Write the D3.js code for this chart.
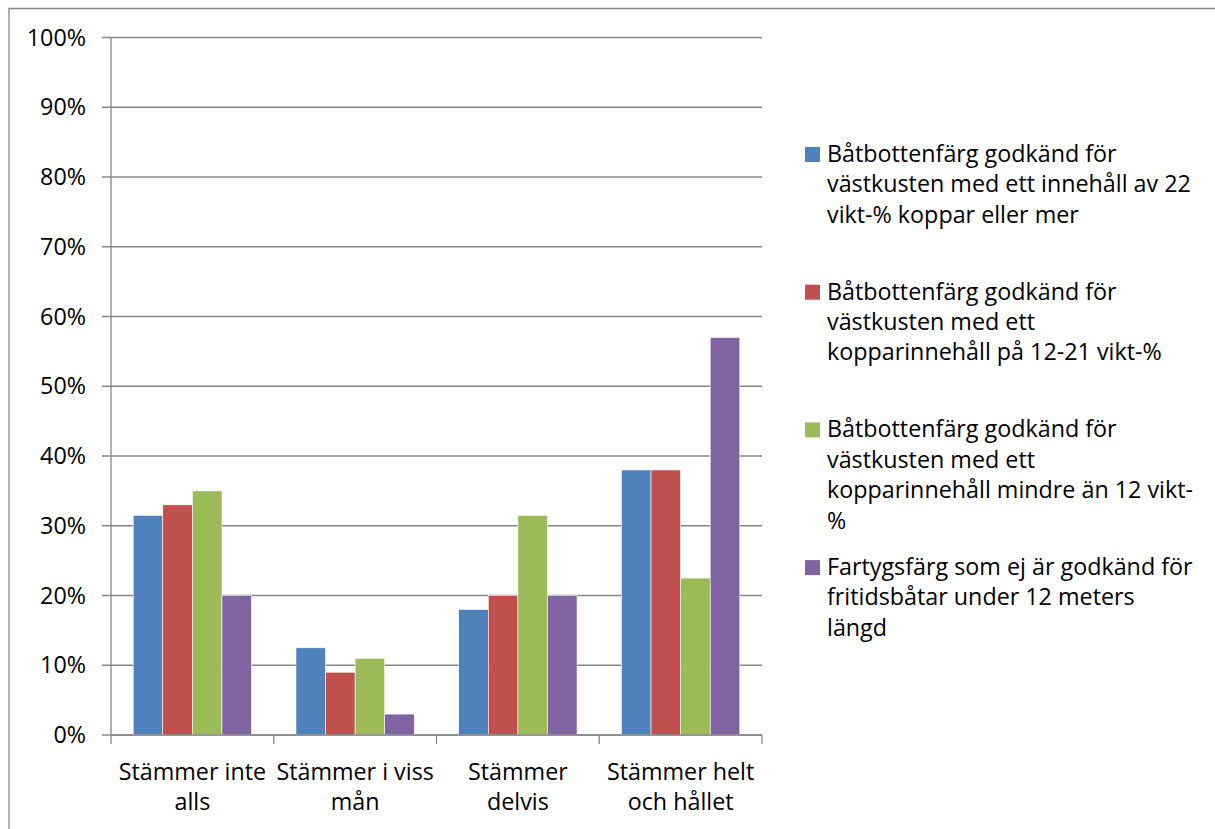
<!DOCTYPE html>
<html>
<head>
<meta charset="utf-8">
<script src="https://cdn.jsdelivr.net/npm/d3@7"></script>
<style>
  body { margin: 0; background: #fff; }
  text { font-family: "Open Sans", "DejaVu Sans", sans-serif; fill: #000; }
</style>
</head>
<body>
<svg width="1215" height="829"></svg>
<script>
var categories = [["Stämmer inte", "alls"], ["Stämmer i viss", "mån"], ["Stämmer", "delvis"], ["Stämmer helt", "och hållet"]];
var seriesNames = [
  ["Båtbottenfärg godkänd för", "västkusten med ett innehåll av 22", "vikt-% koppar eller mer"],
  ["Båtbottenfärg godkänd för", "västkusten med ett", "kopparinnehåll på 12-21 vikt-%"],
  ["Båtbottenfärg godkänd för", "västkusten med ett", "kopparinnehåll mindre än 12 vikt-", "%"],
  ["Fartygsfärg som ej är godkänd för", "fritidsbåtar under 12 meters", "längd"]
];
var s1 = [31.5, 12.5, 18, 38];
var s2 = [33, 9, 20, 38];
var s3 = [35, 11, 31.5, 22.5];
var s4 = [20, 3, 20, 57];
var yTicks = [0, 10, 20, 30, 40, 50, 60, 70, 80, 90, 100];
var colors = ["#4f81bd", "#c0504d", "#9bbb59", "#8064a2"];

var series = [s1, s2, s3, s4];
var fs = 23.3;

var svg = d3.select("svg");
var pLeft = 111, pRight = 762, pTop = 37.5, pBottom = 735;

// border (top + left only, like the original)
svg.append("path")
    .attr("d", "M9,829 V8.5 H1215")
    .attr("fill", "none")
    .attr("stroke", "#878787")
    .attr("stroke-width", 1.3);

var x = d3.scaleBand().domain(d3.range(categories.length)).range([pLeft, pRight]);
var y = d3.scaleLinear().domain([0, 100]).range([pBottom, pTop]);
var xs = d3.scaleBand().domain(d3.range(series.length)).range([0, x.bandwidth()]).paddingOuter(0.75).paddingInner(0);

// gridlines
svg.append("g").selectAll("line")
    .data(yTicks)
    .enter().append("line")
      .attr("x1", pLeft - 9).attr("x2", pRight)
      .attr("y1", function(d) { return y(d); })
      .attr("y2", function(d) { return y(d); })
      .attr("stroke", "#878787")
      .attr("stroke-width", 1.3);

// y labels
svg.append("g").selectAll("text")
    .data(yTicks)
    .enter().append("text")
      .attr("x", 86)
      .attr("y", function(d) { return y(d) + 8; })
      .attr("text-anchor", "end")
      .attr("font-size", fs)
      .text(function(d) { return d + "%"; });

// bars
var flat = [];
series.forEach(function(s, si) {
  s.forEach(function(v, ci) { flat.push({si: si, ci: ci, v: v}); });
});
svg.append("g").selectAll("rect")
    .data(flat)
    .enter().append("rect")
      .attr("x", function(d) { return x(d.ci) + xs(d.si); })
      .attr("width", xs.bandwidth())
      .attr("y", function(d) { return y(d.v); })
      .attr("height", function(d) { return y(0) - y(d.v); })
      .attr("fill", function(d) { return colors[d.si]; })
      .attr("stroke", "#fff")
      .attr("stroke-width", 0.6);

// axes lines
svg.append("line").attr("x1", pLeft).attr("x2", pLeft).attr("y1", pTop).attr("y2", pBottom)
    .attr("stroke", "#878787").attr("stroke-width", 1.3);
svg.append("line").attr("x1", pLeft).attr("x2", pRight).attr("y1", pBottom).attr("y2", pBottom)
    .attr("stroke", "#878787").attr("stroke-width", 1.3);

// category ticks
svg.append("g").selectAll("line")
    .data(d3.range(categories.length + 1))
    .enter().append("line")
      .attr("x1", function(d) { return pLeft + d * x.step(); })
      .attr("x2", function(d) { return pLeft + d * x.step(); })
      .attr("y1", pBottom).attr("y2", pBottom + 9)
      .attr("stroke", "#878787")
      .attr("stroke-width", 1.3);

// category labels
var cat = svg.append("g").selectAll("text")
    .data(categories)
    .enter().append("text")
      .attr("text-anchor", "middle")
      .attr("font-size", fs)
      .attr("x", function(d, i) { return x(i) + x.bandwidth() / 2; })
      .attr("y", 780);
cat.selectAll("tspan")
    .data(function(d) { return d; })
    .enter().append("tspan")
      .attr("x", function() { return d3.select(this.parentNode).attr("x"); })
      .attr("dy", function(d, i) { return i ? 30 : 0; })
      .text(function(d) { return d; });

// legend
var leg = svg.append("g").selectAll("g")
    .data(seriesNames)
    .enter().append("g")
      .attr("transform", function(d, i) { return "translate(805," + (162 + i * 137.7) + ")"; });
leg.append("rect")
    .attr("x", 0).attr("y", -15)
    .attr("width", 15).attr("height", 15)
    .attr("fill", function(d, i) { return colors[i]; });
leg.append("text")
    .attr("x", 22).attr("y", 0)
    .attr("font-size", fs)
  .selectAll("tspan")
    .data(function(d) { return d; })
    .enter().append("tspan")
      .attr("x", 22)
      .attr("dy", function(d, i) { return i ? 30.4 : 0; })
      .text(function(d) { return d; });
</script>
</body>
</html>
